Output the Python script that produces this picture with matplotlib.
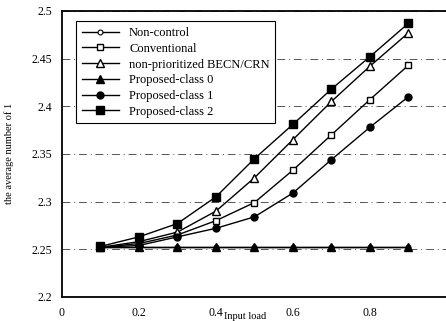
import numpy as np
import matplotlib
matplotlib.use("Agg")
import matplotlib.pyplot as plt

plt.rcParams['font.family'] = ['Liberation Serif', 'DejaVu Serif']

load = [0.1, 0.2, 0.3, 0.4, 0.5, 0.6, 0.7, 0.8, 0.9]

non_control = [2.2525, 2.2525, 2.2525, 2.2525, 2.2525, 2.2525, 2.2525, 2.2525, 2.2525]
conventional = [2.252, 2.256, 2.265, 2.280, 2.299, 2.333, 2.370, 2.407, 2.443]
non_prior = [2.252, 2.258, 2.268, 2.290, 2.325, 2.365, 2.405, 2.442, 2.477]
class0 = [2.252, 2.252, 2.252, 2.252, 2.252, 2.252, 2.252, 2.252, 2.252]
class1 = [2.252, 2.254, 2.263, 2.272, 2.284, 2.309, 2.344, 2.378, 2.410]
class2 = [2.253, 2.263, 2.277, 2.305, 2.345, 2.381, 2.418, 2.452, 2.487]

fig = plt.figure(figsize=(4.46, 3.21), dpi=100)
ax = fig.add_axes([0.139, 0.075, 0.863, 0.891])

lw = 1.0
ax.plot(load, non_control, color='black', lw=lw, marker='o', ms=3.5, mfc='white', mew=0.8, label='Non-control')
ax.plot(load, conventional, color='black', lw=lw, marker='s', ms=5, mfc='white', mew=1.0, label='Conventional')
ax.plot(load, non_prior, color='black', lw=lw, marker='^', ms=6, mfc='white', mew=1.0, label='non-prioritized BECN/CRN')
ax.plot(load, class0, color='black', lw=lw, marker='^', ms=6, label='Proposed-class 0')
ax.plot(load, class1, color='black', lw=lw, marker='o', ms=5, label='Proposed-class 1')
ax.plot(load, class2, color='black', lw=lw, marker='s', ms=5.5, label='Proposed-class 2')

ax.set_xlim(0, 1.0)
ax.set_ylim(2.2, 2.5)
ax.set_xticks([0, 0.2, 0.4, 0.6, 0.8])
ax.set_xticklabels(['0', '0.2', '0.4', '0.6', '0.8'])
ax.set_yticks([2.2, 2.25, 2.3, 2.35, 2.4, 2.45, 2.5])
ax.set_yticklabels(['2.2', '2.25', '2.3', '2.35', '2.4', '2.45', '2.5'])
ax.tick_params(labelsize=8.5, direction='in', length=0, pad=7)
ax.grid(True, axis='y', color='#555555', linestyle=(0, (8, 4, 1, 4)), linewidth=0.7)

for side in ['left', 'bottom', 'top']:
    ax.spines[side].set_linewidth(1.3)
ax.spines['right'].set_visible(False)

ax.set_ylabel('the average number of 1', fontsize=7.5)
ax.yaxis.set_label_coords(-0.125, 0.5)
ax.set_xlabel('Input load', fontsize=7.5)
ax.xaxis.set_label_coords(0.475, -0.052)

leg = ax.legend(loc='upper left', bbox_to_anchor=(0.02, 0.985), fontsize=9,
                frameon=True, fancybox=False, edgecolor='black', framealpha=1,
                handlelength=3.0, borderpad=0.45, labelspacing=0.3)
leg.get_frame().set_linewidth(0.8)

fig.savefig('out.png', dpi=100)
